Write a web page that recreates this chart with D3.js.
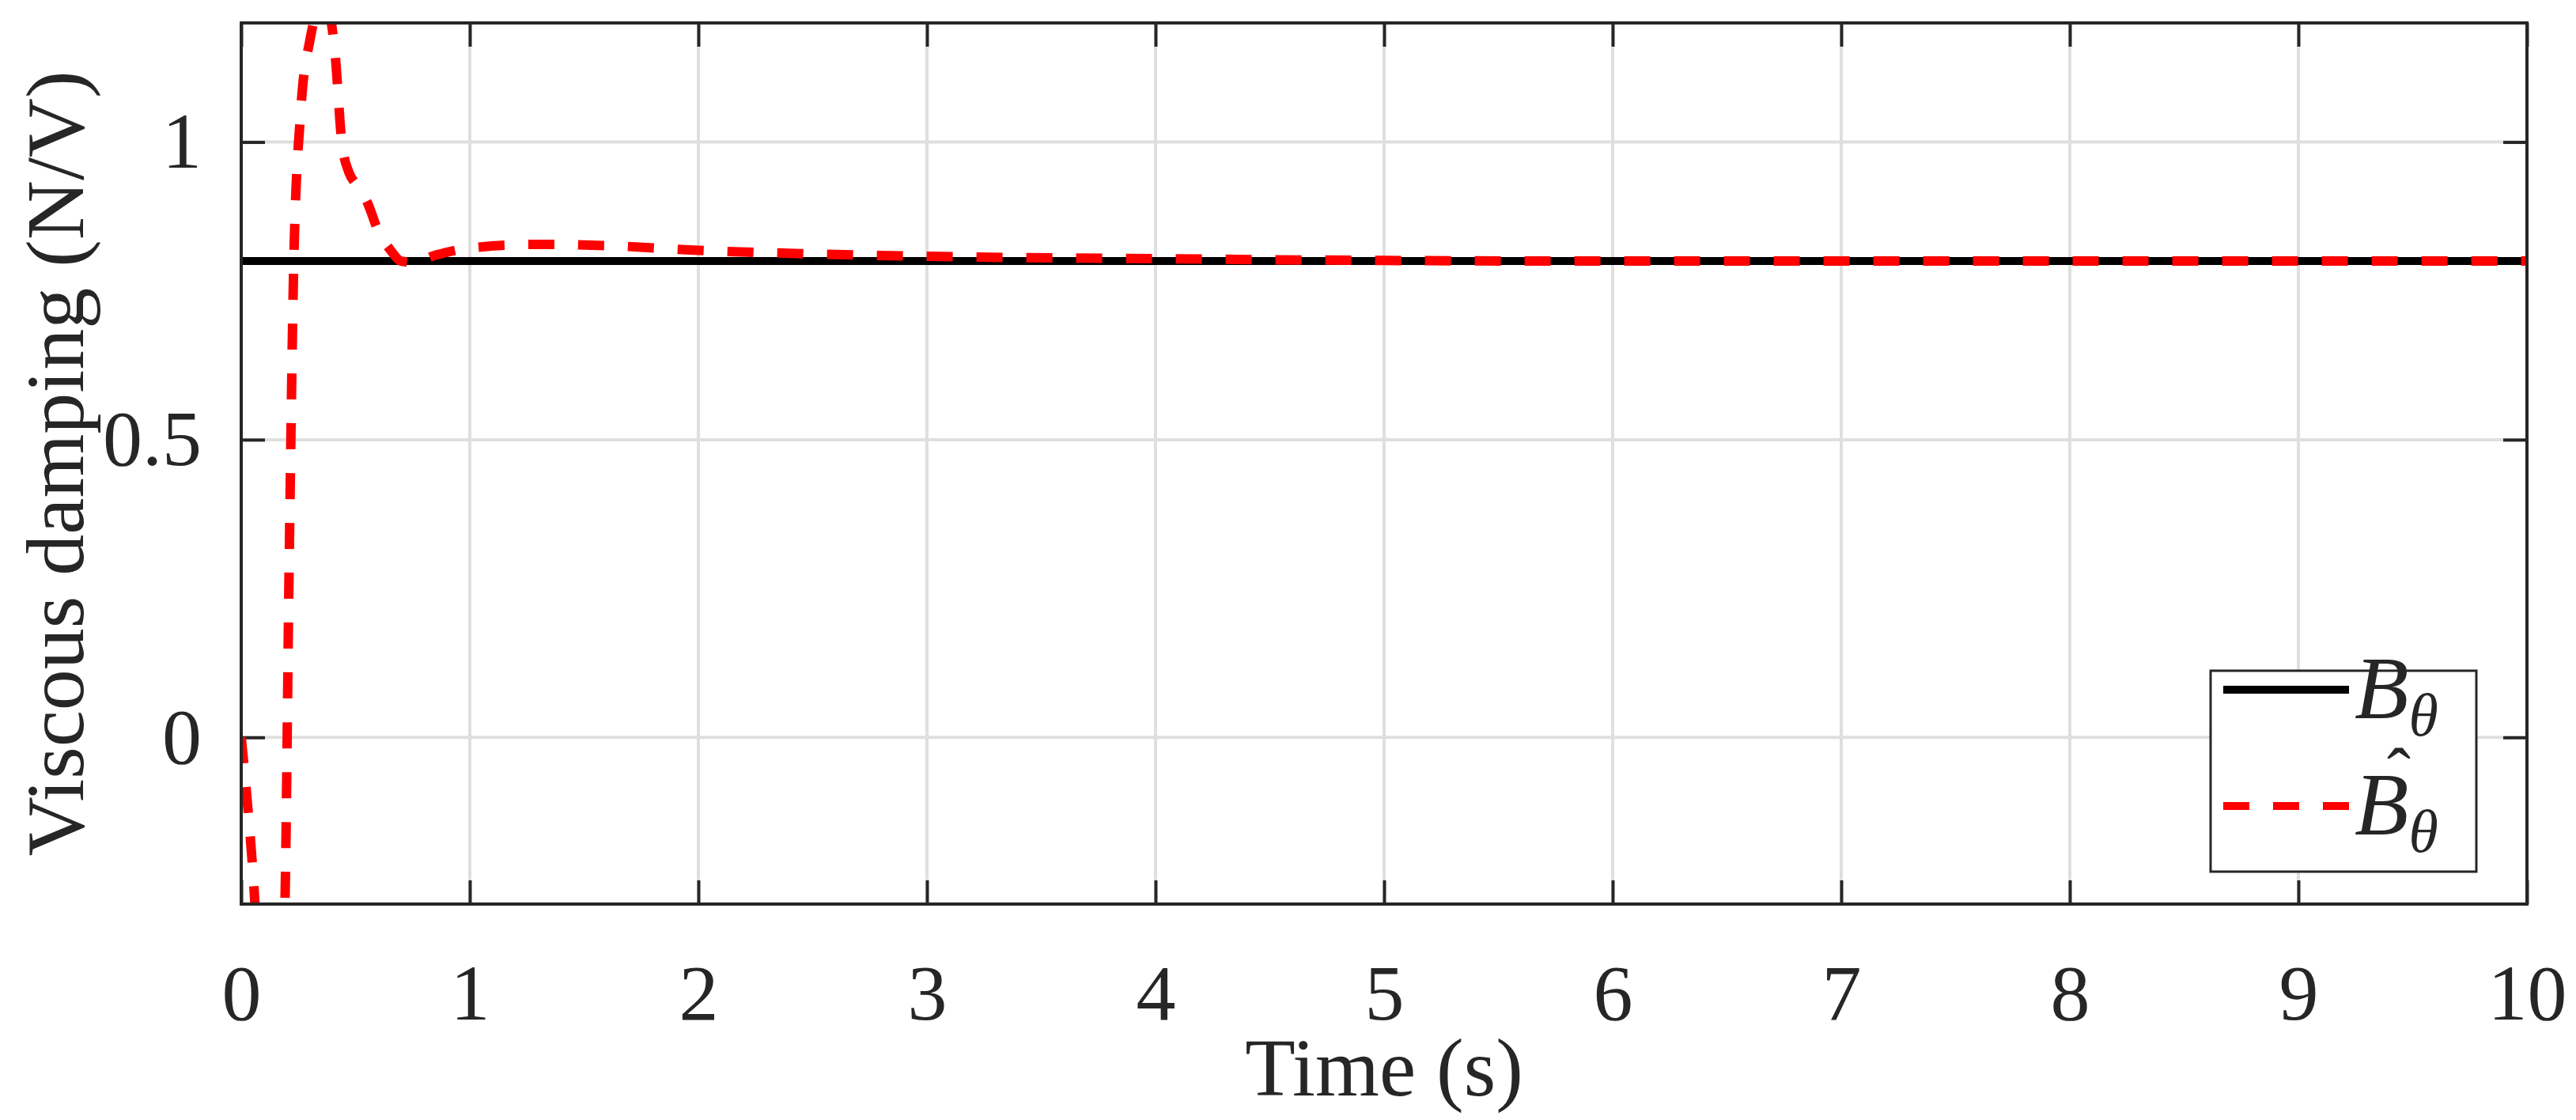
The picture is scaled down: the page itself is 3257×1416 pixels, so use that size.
<!DOCTYPE html>
<html>
<head>
<meta charset="utf-8">
<script src="https://cdn.jsdelivr.net/npm/d3@7"></script>
<style>
  body { margin: 0; background: #fff; }
  text { font-family: "Liberation Serif", "DejaVu Serif", serif; fill: #262626; }
</style>
</head>
<body>
<div id="chart"></div>
<script>
// reference value (constant)
const trueT = [0, 10];
const trueB = [0.8, 0.8];

// estimate
const estT = [0, 0.02, 0.05, 0.08, 0.12, 0.16, 0.19, 0.21, 0.23, 0.26, 0.3, 0.34, 0.38, 0.41, 0.44, 0.47, 0.5, 0.55, 0.6, 0.65, 0.7, 0.75, 0.85, 1, 1.3, 1.6, 2, 2.5, 3, 4, 5, 6, 10];
const estB = [0, -0.08, -0.22, -0.4, -0.55, -0.5, -0.3, 0.3, 0.8, 1.05, 1.17, 1.22, 1.22, 1.15, 1.0, 0.95, 0.93, 0.9, 0.85, 0.82, 0.8, 0.798, 0.81, 0.822, 0.828, 0.826, 0.818, 0.812, 0.808, 0.804, 0.801, 0.8, 0.8];

const xTicks = [0, 1, 2, 3, 4, 5, 6, 7, 8, 9, 10];
const yTicks = [0, 0.5, 1];

const W = 3257, H = 1416;
const margin = {top: 29, right: 62, bottom: 273, left: 305};
const width = W - margin.left - margin.right;
const height = H - margin.top - margin.bottom;

const svg = d3.select('#chart').append('svg')
    .attr('width', W).attr('height', H);

const chart = svg.append('g')
    .attr('transform', `translate(${margin.left},${margin.top})`);

const x = d3.scaleLinear().domain([0, 10]).range([0, width]);
const y = d3.scaleLinear().domain([-0.28, 1.2]).range([height, 0]);

// grid
chart.append('g').selectAll('line').data(xTicks.slice(1, -1)).join('line')
    .attr('x1', d => x(d)).attr('x2', d => x(d)).attr('y1', 0).attr('y2', height)
    .attr('stroke', '#dfdfdf').attr('stroke-width', 4);
chart.append('g').selectAll('line').data(yTicks).join('line')
    .attr('y1', d => y(d)).attr('y2', d => y(d)).attr('x1', 0).attr('x2', width)
    .attr('stroke', '#dfdfdf').attr('stroke-width', 4);

// axes (ticks pointing inward, both sides)
const styleAxis = g => {
  g.select('.domain').remove();
  g.selectAll('line').attr('stroke', '#262626').attr('stroke-width', 4);
  g.selectAll('text').style('font-size', '100px').attr('fill', '#262626');
};
chart.append('g').attr('transform', `translate(0,${height})`)
    .call(d3.axisBottom(x).tickValues(xTicks).tickSize(-30).tickPadding(75).tickFormat(d3.format('d')))
    .call(styleAxis);
chart.append('g')
    .call(d3.axisTop(x).tickValues(xTicks).tickSize(-30).tickFormat(''))
    .call(styleAxis);
chart.append('g')
    .call(d3.axisLeft(y).tickValues(yTicks).tickSize(-30).tickPadding(50).tickFormat(d => d))
    .call(styleAxis);
chart.append('g').attr('transform', `translate(${width},0)`)
    .call(d3.axisRight(y).tickValues(yTicks).tickSize(-30).tickFormat(''))
    .call(styleAxis);

// clip
svg.append('clipPath').attr('id', 'clip').append('rect')
    .attr('width', width).attr('height', height);

const line = d3.line().x(d => x(d[0])).y(d => y(d[1])).curve(d3.curveMonotoneX);
const plot = chart.append('g').attr('clip-path', 'url(#clip)');
plot.append('path').datum(d3.zip(trueT, trueB)).attr('d', line)
    .attr('fill', 'none').attr('stroke', '#000').attr('stroke-width', 10);
plot.append('path').datum(d3.zip(estT, estB)).attr('d', line)
    .attr('fill', 'none').attr('stroke', '#ff0000').attr('stroke-width', 12)
    .attr('stroke-dasharray', '33,30');

// box
chart.append('rect').attr('width', width).attr('height', height)
    .attr('fill', 'none').attr('stroke', '#262626').attr('stroke-width', 4);

// axis titles
svg.append('text').attr('x', margin.left + width / 2).attr('y', 1385)
    .attr('text-anchor', 'middle').style('font-size', '104px').text('Time (s)');
svg.append('text').attr('transform', `translate(105,${margin.top + height / 2}) rotate(-90)`)
    .attr('text-anchor', 'middle').style('font-size', '104px').text('Viscous damping (N/V)');

// legend
const lg = svg.append('g').attr('transform', 'translate(2795,848)');
lg.append('rect').attr('width', 336).attr('height', 254)
    .attr('fill', '#fff').attr('stroke', '#262626').attr('stroke-width', 3);
const items = [
  {y: 24, color: '#000', dash: null, hat: false},
  {y: 171, color: '#ff0000', dash: '33,30', hat: true}
];
items.forEach(it => {
  lg.append('line').attr('x1', 16).attr('x2', 175).attr('y1', it.y).attr('y2', it.y)
      .attr('stroke', it.color).attr('stroke-width', 10).attr('stroke-dasharray', it.dash);
  const t = lg.append('text').attr('x', 182).attr('y', it.y + 36)
      .style('font-size', '112px').style('font-style', 'italic').attr('fill', '#000');
  t.append('tspan').text('B');
  t.append('tspan').attr('dy', 22).style('font-size', '76px').text('θ');
  if (it.hat) {
    lg.append('text').attr('x', 238).attr('y', it.y - 10).attr('text-anchor', 'middle')
        .style('font-size', '90px').attr('fill', '#000').text('ˆ');
  }
});
</script>
</body>
</html>
